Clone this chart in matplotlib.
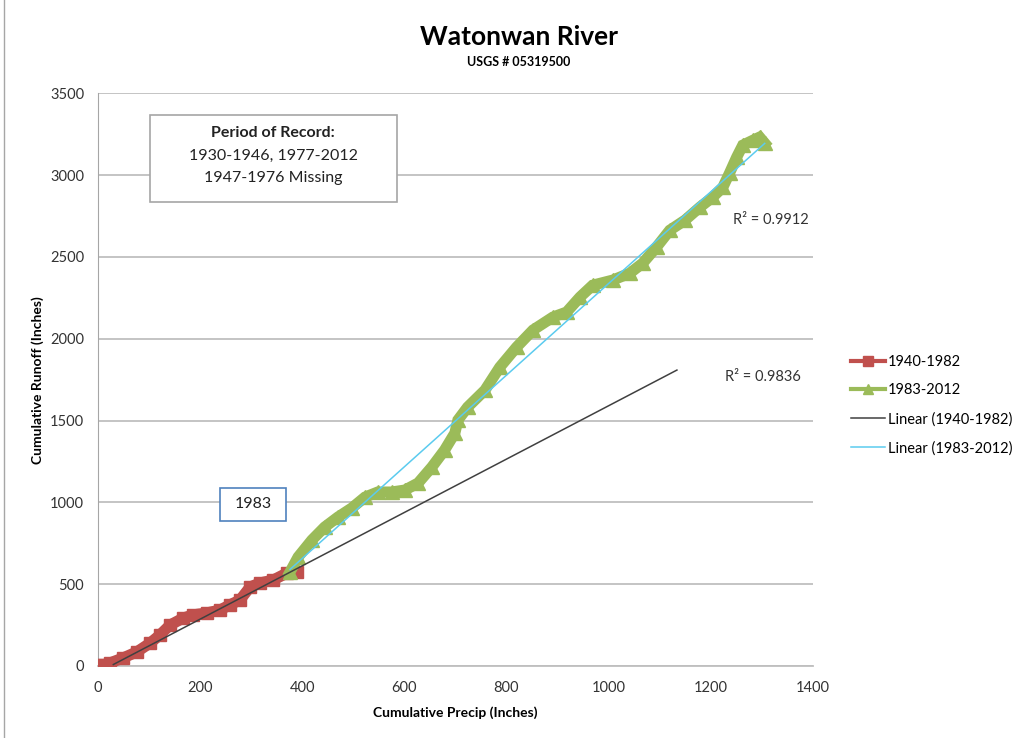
import numpy as np
import matplotlib
matplotlib.use('Agg')
import matplotlib.pyplot as plt
from matplotlib.lines import Line2D
from matplotlib.patches import Rectangle

plt.rcParams['font.family'] = ['Lato', 'DejaVu Sans']

# 1940-1982 series (cumulative precip, cumulative runoff)
red_x = [0, 8, 23, 49, 76, 102, 121, 141, 167, 186, 213, 239, 258, 278, 298, 317, 343, 370, 390]
red_y = [5, 5, 18, 49, 86, 140, 189, 250, 293, 312, 324, 342, 373, 403, 483, 507, 525, 568, 575]

# 1983-2012 series
green_x = [376, 392, 419, 444, 470, 497, 523, 548, 575, 601, 627, 654, 679, 699, 705, 724,
           758, 787, 820, 852, 891, 918, 944, 969, 1008, 1042, 1067, 1094, 1120, 1150,
           1179, 1204, 1224, 1237, 1251, 1263, 1283, 1296, 1306]
green_y = [574, 666, 770, 849, 910, 965, 1032, 1063, 1063, 1075, 1118, 1216, 1320, 1423, 1503, 1582,
           1686, 1826, 1949, 2053, 2132, 2163, 2254, 2327, 2358, 2401, 2462, 2560, 2663, 2725,
           2804, 2865, 2926, 3012, 3109, 3183, 3213, 3232, 3195]

# linear trendlines as shown (slope, intercept, x extent)
red_trend = (1.63, -40.0, [30, 1134])
green_trend = (2.80, -463.0, [376, 1306])
red_r2 = 'R² = 0.9836'
green_r2 = 'R² = 0.9912'

labels = ['1940-1982', '1983-2012', 'Linear (1940-1982)', 'Linear (1983-2012)']
red_c = '#C0504D'
green_c = '#9BBB59'
black_c = '#404040'
blue_c = '#5BCBEF'

fig = plt.figure(figsize=(10.21, 7.38), dpi=100)
ax = fig.add_axes([0.096, 0.0976, 0.7, 0.776])

# thick bands to mimic the densely overlapping Excel markers
ax.plot(red_x, red_y, color=red_c, lw=8, marker='s', ms=8, solid_joinstyle='miter', zorder=3)
ax.plot(green_x, green_y, color=green_c, lw=8, marker='^', ms=10, solid_joinstyle='miter', zorder=3)

for (m, b, xr), c in [(red_trend, black_c), (green_trend, blue_c)]:
    xr = np.array(xr, dtype=float)
    ax.plot(xr, m * xr + b, color=c, lw=1.1, zorder=4)

ax.set_xlim(0, 1400)
ax.set_ylim(0, 3500)
ax.set_xticks(range(0, 1401, 200))
ax.set_yticks(range(0, 3501, 500))
ax.yaxis.grid(True, color='#BFBFBF', lw=1.3)
ax.set_axisbelow(True)
for s in ['top', 'right']:
    ax.spines[s].set_visible(False)
ax.spines['left'].set_color('#A6A6A6')
ax.spines['bottom'].set_color('#BFBFBF')
ax.spines['bottom'].set_linewidth(1.3)
ax.tick_params(axis='both', length=0, labelsize=10.5, colors='#333333')
ax.tick_params(axis='y', pad=10)
ax.tick_params(axis='x', pad=11)

ax.text(1243, 2724, green_r2, fontsize=10.5, color='#333333', va='center')
ax.text(1228, 1765, red_r2, fontsize=10.5, color='#333333', va='center')

# period of record box
ax.add_patch(Rectangle((0.0727, 0.8098), 0.3455, 0.1518, transform=ax.transAxes,
                       facecolor='white', edgecolor='#A6A6A6', lw=1.2, zorder=5))
ax.text(0.245, 0.930, 'Period of Record:', transform=ax.transAxes, ha='center', va='center',
        fontsize=11.5, fontweight='bold', color='#222222', zorder=6)
ax.text(0.245, 0.890, '1930-1946, 1977-2012', transform=ax.transAxes, ha='center', va='center',
        fontsize=11.5, color='#222222', zorder=6)
ax.text(0.245, 0.852, '1947-1976 Missing', transform=ax.transAxes, ha='center', va='center',
        fontsize=11.5, color='#222222', zorder=6)

# 1983 box
ax.add_patch(Rectangle((0.1706, 0.253), 0.0923, 0.0576, transform=ax.transAxes,
                       facecolor='white', edgecolor='#4F81BD', lw=1.2, zorder=5))
ax.text(0.2168, 0.2827, '1983', transform=ax.transAxes, ha='center', va='center',
        fontsize=11.5, color='#222222', zorder=6)

fig.text(0.508, 0.950, 'Watonwan River', ha='center', va='center', fontsize=19, fontweight='bold')
fig.text(0.508, 0.916, 'USGS # 05319500', ha='center', va='center', fontsize=9, fontweight='bold')
fig.text(38 / 1021, 1 - 380 / 738, 'Cumulative Runoff (Inches)', rotation=90, ha='center', va='center',
         fontsize=10, fontweight='bold')
fig.text(455 / 1021, 1 - 713 / 738, 'Cumulative Precip (Inches)', ha='center', va='center',
         fontsize=10, fontweight='bold')

handles = [Line2D([], [], color=red_c, lw=3, marker='s', ms=7),
           Line2D([], [], color=green_c, lw=3, marker='^', ms=7),
           Line2D([], [], color=black_c, lw=1.1),
           Line2D([], [], color=blue_c, lw=1.1)]
fig.legend(handles, labels, loc='upper left', bbox_to_anchor=(0.828, 0.527), frameon=False,
           fontsize=10.5, labelspacing=1.0, handlelength=2.3, handletextpad=0.2, borderaxespad=0)

# chart border on the left edge
fig.add_artist(Line2D([4 / 1021, 4 / 1021], [0, 1], color='#A6A6A6', lw=1))

fig.savefig('out.png', dpi=100)
